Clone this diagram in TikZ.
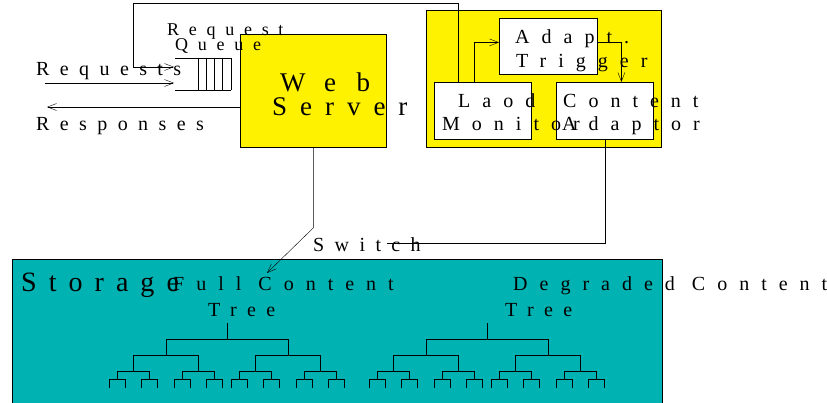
\documentclass[tikz,border=0pt]{standalone}
\usepackage{fontspec}
\setmainfont{Liberation Serif}
\newfontfamily\widefont[LetterSpace=52]{Liberation Serif}
\usetikzlibrary{arrows.meta}

\definecolor{storecyan}{RGB}{0,178,178}

\begin{document}
\begin{tikzpicture}[x=1pt, y=-1pt, >={Straight Barb[length=9pt,width=7pt]},
    box/.style={draw, line width=0.8pt, inner sep=0pt, anchor=north west},
    lbl/.style={anchor=base west, inner sep=0pt, font=\widefont\fontsize{20}{22}\selectfont},
    boxlbl/.style={lbl, font=\widefont\addfontfeature{LetterSpace=60}\fontsize{20}{22}\selectfont},
    smalllbl/.style={lbl, font=\widefont\addfontfeature{LetterSpace=54}\fontsize{18}{20}\selectfont}]

\useasboundingbox (0,0) rectangle (827,402);

% Boxes
\node[box, fill=storecyan, minimum width=650pt, minimum height=150pt] (storage) at (12,259) {};
\node[box, fill=yellow, minimum width=146pt, minimum height=113pt] (web) at (240,34) {};
\node[box, fill=yellow, minimum width=235pt, minimum height=137pt] (ctrl) at (426,10) {};
\node[box, fill=white, minimum width=98pt, minimum height=56pt] (trigger) at (499,18) {};
\node[box, fill=white, minimum width=97pt, minimum height=57pt] (monitor) at (434,82) {};
\node[box, fill=white, minimum width=97pt, minimum height=57pt] (adaptor) at (556,82) {};

% Request queue
\draw (175,58) -- (231,58);
\draw (175,90) -- (231,90);
\foreach \x in {198,206,214,222,231}
{
    \draw (\x,58) -- (\x,90);
}
\coordinate (qfeed) at (174,67);
\coordinate (qin) at (174,83);

% Labels
\node[smalllbl] (reqlbl) at (167,35) {Request};
\node[smalllbl] (queuelbl) at (175,50) {Queue};
\node[lbl] (requests) at (36,75) {Requests};
\node[lbl] (responses) at (36,130) {Responses};
\node[lbl, font=\widefont\addfontfeature{LetterSpace=76}\fontsize{27}{30}\selectfont] (weblbl) at (280,91) {Web};
\node[lbl, font=\widefont\addfontfeature{LetterSpace=48}\fontsize{27}{30}\selectfont] (serverlbl) at (272,115) {Server};
\node[boxlbl] (adaptlbl) at (515,43) {Adapt.};
\node[boxlbl] (triggerlbl) at (516,67) {Trigger};
\node[boxlbl] (laodlbl) at (458,107) {Laod};
\node[boxlbl] (monitorlbl) at (442,130) {Monitor};
\node[boxlbl] (contentlbl) at (563,107) {Content};
\node[boxlbl] (adaptorlbl) at (562,130) {Adaptor};
\node[lbl] (switchlbl) at (313,251) {Switch};
\node[lbl, font=\widefont\addfontfeature{LetterSpace=43}\fontsize{28}{30}\selectfont] (storagelbl) at (21,291) {Storage};
\node[boxlbl] (fulllbl) at (173,290) {Full Content};
\node[lbl] (fulltree) at (208,316) {Tree};
\node[boxlbl] (degrlbl) at (513,290) {Degraded Content};
\node[lbl] (degrtree) at (505,316) {Tree};

% Requests in, responses out
\draw[->] (45,83) -- (qin);
\draw[->] (web.west |- 0,107) -- (47,107);

% Feedback from load monitor to the queue
\draw[->] ([xshift=-24.5pt]monitor.north) |- (133,3) |- (qfeed);

% Monitor -> trigger -> adaptor
\draw[->] ([xshift=-8.5pt]monitor.north) |- ([yshift=4pt]trigger.west);
\draw[->] ([yshift=4pt]trigger.east) -| ([xshift=16.5pt]adaptor.north);

% Switch
\coordinate (swend) at (387,243);
\coordinate (fullin) at (267,273);
\draw (adaptor.south) |- (swend);
\draw[->] (web.south) -- ++(0,80) -- (fullin);

% Content trees
\foreach \t in {227,487}
{
    \draw (\t,323) -- (\t,339);
    \foreach \a in {-61,61}
    {
        \draw (\t,339) -| ({\t+\a},355);
        \foreach \b in {-32.5,32.5}
        {
            \draw ({\t+\a},355) -| ({\t+\a+\b},371);
            \foreach \c in {-16,16}
            {
                \draw ({\t+\a+\b},371) -| ({\t+\a+\b+\c},379);
                \foreach \d in {-8,8}
                    \draw ({\t+\a+\b+\c},379) -| ({\t+\a+\b+\c+\d},388);
            }
        }
    }
}

\end{tikzpicture}
\end{document}
